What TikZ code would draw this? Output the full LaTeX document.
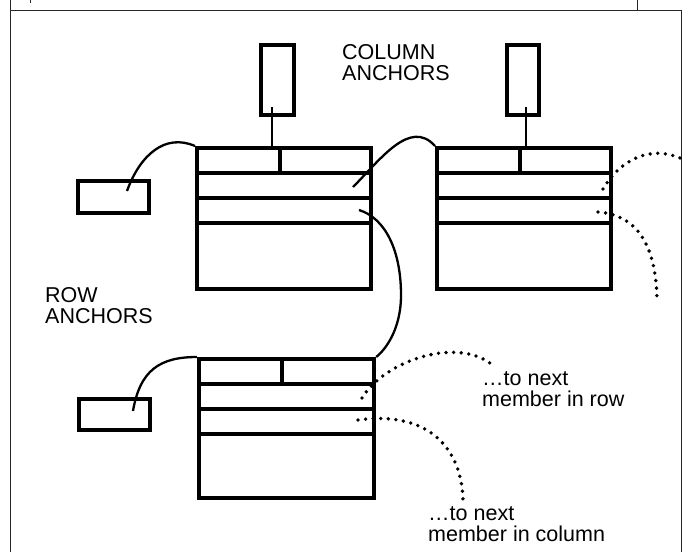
\documentclass[tikz,border=0pt]{standalone}
\usepackage{fontspec}
\setmainfont{Liberation Sans}
\usetikzlibrary{calc}
\tikzset{
  frameline/.style={line width=1pt, black!85},
  recordbox/.style={draw, line width=4.2pt, inner sep=0pt, minimum width=174pt, anchor=north west},
  recline/.style={line width=4pt},
  anchorbox/.style={draw, line width=3.8pt, inner sep=0pt, anchor=north west},
  link/.style={line width=2.3pt},
  dotlink/.style={line width=3.8pt, line cap=round, dash pattern=on 0pt off 7.6pt},
  lbl/.style={inner sep=0pt, anchor=north west, align=left, font=\fontsize{21.5}{21}\selectfont}
}
\newcommand{\recrows}[1]{%
  \draw[recline] ($(#1.north west)+(0,27)$) -- ($(#1.north east)+(0,27)$);
  \draw[recline] ($(#1.north west)+(0,52)$) -- ($(#1.north east)+(0,52)$);
  \draw[recline] ($(#1.north west)+(0,77)$) -- ($(#1.north east)+(0,77)$);
  \draw[recline] ($(#1.north west)+(85,0)$) -- ($(#1.north west)+(85,27)$);
}
\begin{document}
\begin{tikzpicture}[x=1pt,y=-1pt]
\useasboundingbox (0,0) rectangle (685,552);
% frame
\draw[frameline] (10,0) -- (10,552);
\draw[frameline] (10,10) -- (681,10) -- (681,552);
\draw[frameline] (637,0) -- (637,10);
\draw[frameline] (30,0) -- (30,3);

% records
\node[recordbox, minimum height=141pt] (rec1) at (195,146) {};
\node[recordbox, minimum height=141pt] (rec2) at (435,146) {};
\node[recordbox, minimum height=139pt, minimum width=175pt] (rec3) at (197,357) {};
\recrows{rec1}
\recrows{rec2}
\recrows{rec3}

% anchors
\node[anchorbox, minimum width=33pt, minimum height=70pt] (ca1) at (259,43) {};
\node[anchorbox, minimum width=32pt, minimum height=70pt] (ca2) at (505,43) {};
\node[anchorbox, minimum width=71pt, minimum height=32pt] (ra1) at (76,179) {};
\node[anchorbox, minimum width=71pt, minimum height=31pt] (ra2) at (77,397) {};

% labels
\node[lbl] (collbl) at (342,44) {COLUMN\\ANCHORS};
\node[lbl] (rowlbl) at (45,287) {ROW\\ANCHORS};
\node[lbl] (rowmem) at (482,371) {…to next\\member in row};
\node[lbl] (colmem) at (428,506) {…to next\\member in column};

% connector points
\coordinate (ca1p) at (272,107);
\coordinate (ca2p) at (526,107);
\coordinate (ra1p) at (127,191);
\coordinate (ra2p) at (133,411);
\coordinate (r1a) at (353,187);
\coordinate (r1b) at (359,210);
\coordinate (r2a) at (603,189);
\coordinate (r2b) at (598,212);
\coordinate (r2aend) at (680,158);
\coordinate (r2bend) at (657,303);
\coordinate (r3a) at (362,398);
\coordinate (r3b) at (358,420);
\coordinate (r3aend) at (495,367);
\coordinate (r3bend) at (463,503);

% solid links
\draw[link] (ca1p) -- (ca1p |- rec1.north);
\draw[link] (ca2p) -- (ca2p |- rec2.north);
\draw[link] (ra1p) .. controls (140,155) and (165,133) .. (rec1.north west);
\draw[link] (ra2p) .. controls (140,370) and (160,357) .. (rec3.north west);
\draw[link] (r1a) .. controls (380,160) and (410,118) .. (rec2.north west);
\draw[link] (r1b) .. controls (385,218) and (401,250) .. (401,295)
                  .. controls (401,330) and (385,350) .. (rec3.north east);

% dotted links
\draw[dotlink] (r2a) .. controls (620,160) and (650,145) .. (r2aend);
\draw[dotlink] (r2b) .. controls (640,215) and (657,250) .. (r2bend);
\draw[dotlink] (r3a) .. controls (385,360) and (460,335) .. (r3aend);
\draw[dotlink] (r3b) .. controls (430,410) and (463,450) .. (r3bend);
\end{tikzpicture}
\end{document}
